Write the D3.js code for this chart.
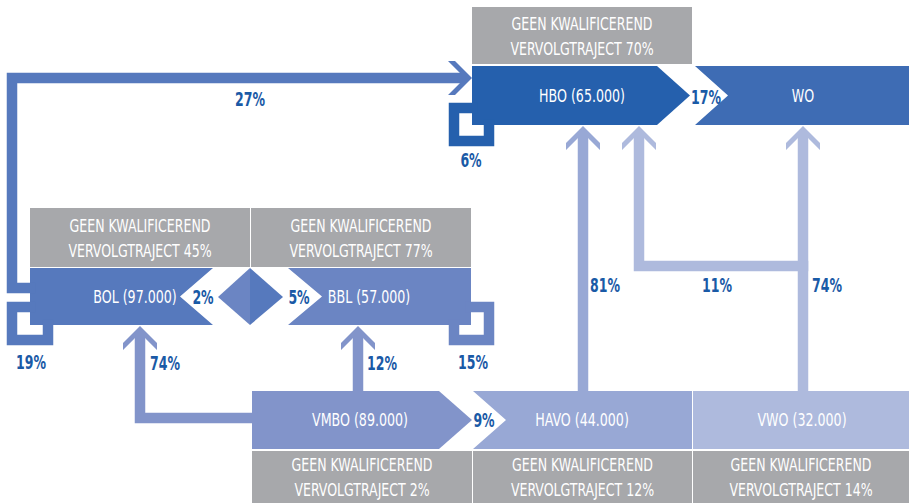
<!DOCTYPE html>
<html>
<head>
<meta charset="utf-8">
<script src="https://cdn.jsdelivr.net/npm/d3@7"></script>
<style>
  html, body { margin: 0; padding: 0; background: #fff; }
  text { font-family: "Liberation Sans Narrow", "DejaVu Sans Condensed", "Roboto Condensed", sans-serif; }
</style>
</head>
<body>
<div class="flow-chart"></div>
<script>
// data
const nodeNames = ["HBO", "WO", "BOL", "BBL", "VMBO", "HAVO", "VWO"]
const nodeCounts = ["65.000", null, "97.000", "57.000", "89.000", "44.000", "32.000"]
const geenKwalificerend = [70, null, 45, 77, 2, 12, 14]

const flowFrom = ["BOL", "HBO", "HBO", "BBL", "BOL", "BOL", "BBL", "VMBO", "VMBO", "VMBO", "HAVO", "VWO", "VWO"]
const flowTo   = ["HBO", "HBO", "WO",  "BOL", "BBL", "BOL", "BBL", "BOL",  "BBL",  "HAVO", "HBO",  "HBO", "WO"]
const flowPct  = [27, 6, 17, 2, 5, 19, 15, 74, 12, 9, 81, 11, 74]

const dimensions = { width: 909, height: 503 }

const colors = {
  HBO: "#2560ad", WO: "#3e6cb4", BOL: "#5679bd", BBL: "#6b85c3",
  VMBO: "#8294ca", HAVO: "#98a8d5", VWO: "#aebadd",
  grey: "#a7a8ab", label: "#1a5aa6"
}

// box layout: [x0, x1, y0, y1], grey box sits above or below
const layout = {
  HBO:  { box: [472, 690, 66, 125], grey: [472, 692, 7, 64],    tx: 582, shape: "tip" },
  WO:   { box: [695, 909, 66, 125], grey: null,                tx: 803, shape: "notch" },
  BOL:  { box: [30, 250, 268, 325], grey: [30, 250, 208, 267],  tx: 135, shape: "backnotch" },
  BBL:  { box: [250, 471, 268, 325], grey: [251, 471, 208, 267], tx: 369, shape: "notch" },
  VMBO: { box: [252, 472, 391, 449], grey: [252, 472, 451, 503], tx: 360, shape: "tip" },
  HAVO: { box: [473, 692, 391, 449], grey: [473, 692, 451, 503], tx: 582, shape: "notch" },
  VWO:  { box: [693, 909, 391, 449], grey: [693, 909, 451, 503], tx: 802, shape: "rect" }
}

// how each flow is routed (path points, arrow head, label spot)
const routes = [
  { pts: [[30, 288], [12, 288], [12, 78], [460, 78]], head: [472, 78, 90], label: [250, 99] },
  { pts: [[472, 108], [454, 108], [454, 141], [489, 141], [489, 125]], label: [471, 160] },
  { pts: null, label: [706, 97] },
  { tri: [[250, 268], [218, 297], [250, 325]], label: [203, 297] },
  { tri: [[250, 268], [283, 297], [250, 325]], label: [299, 297] },
  { pts: [[30, 307], [12, 307], [12, 340], [48, 340], [48, 325]], label: [31, 362] },
  { pts: [[471, 307], [489, 307], [489, 340], [454, 340], [454, 325]], label: [473, 362] },
  { pts: [[252, 418], [140, 418], [140, 338]], head: [140, 326, 0], label: [165, 363] },
  { pts: [[358, 391], [358, 338]], head: [358, 326, 0], label: [382, 363] },
  { pts: null, label: [484, 420] },
  { pts: [[583, 391], [583, 138]], head: [583, 126, 0], label: [605, 285] },
  { pts: [[803, 266], [639, 266], [639, 138]], head: [639, 126, 0], label: [717, 285] },
  { pts: [[803, 391], [803, 138]], head: [803, 126, 0], label: [827, 285] }
]

const svg = d3.select('.flow-chart')
  .append('svg')
  .attr('width', dimensions.width)
  .attr('height', dimensions.height)

// the original uses a narrow font; measure ours and squeeze it to match
const squeeze = (str, size, weight, target) => {
  const probe = svg.append('text').attr('font-size', size).attr('font-weight', weight).text(str)
  const w = probe.node().getComputedTextLength()
  probe.remove()
  return Math.min(1, target / w)
}
const sqGrey = squeeze('GEEN KWALIFICEREND', 18, 'normal', 141)
const sqBox = squeeze('HBO (65.000)', 17, 'normal', 86)
const sqPct = squeeze('27%', 19, 'bold', 30)

const place = (sel, x, y, s) => sel.attr('transform', `translate(${x},${y}) scale(${s},1)`)

const shapePoints = (name) => {
  const [x0, x1, y0, y1] = layout[name].box
  const ym = (y0 + y1) / 2
  const d = 33
  switch (layout[name].shape) {
    case "tip": return [[x0, y0], [x1 - d, y0], [x1, ym], [x1 - d, y1], [x0, y1]]
    case "notch": return (name === "BBL")
      ? [[x0 + 38, y0], [x1, y0], [x1, y1], [x0 + 38, y1], [x0 + 72, ym]]
      : [[x0, y0], [x1, y0], [x1, y1], [x0, y1], [x0 + d, ym]]
    case "backnotch": return [[x0, y0], [x1 - 37, y0], [x1 - 70, ym], [x1 - 37, y1], [x0, y1]]
    default: return [[x0, y0], [x1, y0], [x1, y1], [x0, y1]]
  }
}

const line = d3.line()

// grey "geen kwalificerend" boxes
const nodes = nodeNames.map((name, i) => ({ name, count: nodeCounts[i], geen: geenKwalificerend[i] }))

const greys = svg.append('g').selectAll('g')
  .data(nodes.filter(n => n.geen !== null))
  .enter().append('g')

greys.append('rect')
  .attr('x', d => layout[d.name].grey[0])
  .attr('y', d => layout[d.name].grey[2])
  .attr('width', d => layout[d.name].grey[1] - layout[d.name].grey[0])
  .attr('height', d => layout[d.name].grey[3] - layout[d.name].grey[2])
  .attr('fill', colors.grey)

greys.each(function(d) {
  const g = layout[d.name].grey
  const cx = (g[0] + g[1]) / 2
  const cy = (g[2] + g[3]) / 2
  const lines = ['GEEN KWALIFICEREND', `VERVOLGTRAJECT ${d.geen}%`]
  lines.forEach((str, k) => {
    d3.select(this).append('text')
      .attr('text-anchor', 'middle')
      .attr('fill', '#fff')
      .attr('font-size', 18)
      .text(str)
      .call(place, cx, cy - 6 + k * 25, sqGrey)
  })
})

// blue boxes
const boxes = svg.append('g').selectAll('g')
  .data(nodes)
  .enter().append('g')

boxes.append('path')
  .attr('d', d => line(shapePoints(d.name)) + 'Z')
  .attr('fill', d => colors[d.name])

boxes.each(function(d) {
  const b = layout[d.name].box
  d3.select(this).append('text')
    .attr('dy', '0.36em')
    .attr('text-anchor', 'middle')
    .attr('fill', '#fff')
    .attr('font-size', 17)
    .text(d.count ? `${d.name} (${d.count})` : d.name)
    .call(place, layout[d.name].tx, (b[2] + b[3]) / 2, sqBox)
})

// flows
const chevron = [[0, 0], [17, 17], [17, 24], [5, 12], [-5, 12], [-17, 24], [-17, 17]]

const flows = flowPct.map((pct, i) => ({ from: flowFrom[i], to: flowTo[i], pct, route: routes[i] }))

const flowG = svg.append('g')

flows.forEach(f => {
  const col = colors[f.from]
  if (f.route.pts) {
    flowG.append('path')
      .attr('d', line(f.route.pts))
      .attr('fill', 'none')
      .attr('stroke', col)
      .attr('stroke-width', 10.5)
      .attr('stroke-linejoin', 'miter')
      .attr('stroke-linecap', 'square')
  }
  if (f.route.head) {
    const [hx, hy, rot] = f.route.head
    flowG.append('path')
      .attr('d', line(chevron) + 'Z')
      .attr('transform', `translate(${hx},${hy}) rotate(${rot})`)
      .attr('fill', col)
  }
  if (f.route.tri) {
    flowG.append('path')
      .attr('d', line(f.route.tri) + 'Z')
      .attr('fill', col)
  }
})

// percentage labels
svg.append('g').selectAll('text')
  .data(flows)
  .enter().append('text')
  .attr('dy', '0.36em')
  .attr('text-anchor', 'middle')
  .attr('fill', colors.label)
  .attr('font-size', 19)
  .attr('font-weight', 'bold')
  .text(d => `${d.pct}%`)
  .each(function(d) { place(d3.select(this), d.route.label[0], d.route.label[1], sqPct) })
</script>
</body>
</html>
